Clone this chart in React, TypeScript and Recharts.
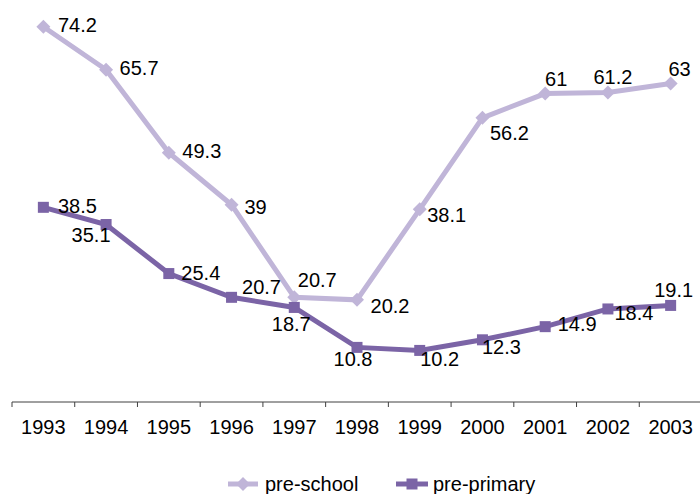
import React from "react";
import { LineChart, Line, XAxis, YAxis, Legend, LabelList } from "recharts";

const YEARS = ["1993", "1994", "1995", "1996", "1997", "1998", "1999", "2000", "2001", "2002", "2003"];
const PRE_SCHOOL = [74.2, 65.7, 49.3, 39, 20.7, 20.2, 38.1, 56.2, 61, 61.2, 63];
const PRE_PRIMARY = [38.5, 35.1, 25.4, 20.7, 18.7, 10.8, 10.2, 12.3, 14.9, 18.4, 19.1];

const data = YEARS.map((year, i) => ({
  year,
  preSchool: PRE_SCHOOL[i],
  prePrimary: PRE_PRIMARY[i],
}));

// label centre offsets from each point, px
const SCHOOL_LABEL_POS = [
  [34, -2], [33, -2], [33, -2], [24, 2], [23, -17], [33, 6],
  [27, 6], [27, 15], [11, -15], [5, -16], [9, -14],
];
const PRIMARY_LABEL_POS = [
  [34, -1], [-15, 10], [32, -1], [30, -10], [-3, 17], [-4, 12],
  [20, 9], [19, 7], [32, -3], [26, 4], [3, -15],
];

const LIGHT = "#c0b5d8";
const DARK = "#7b64a6";
const FONT = "'Liberation Sans', Arial, sans-serif";

const CHART_W = 704;
const MARGIN_L = 12;
const MARGIN_R = 2;
const BAND = (CHART_W - MARGIN_L - MARGIN_R) / YEARS.length;

function Diamond(props: any) {
  const { cx, cy, fill } = props;
  if (cx == null || cy == null) return null;
  const r = 7;
  return (
    <polygon
      points={`${cx},${cy - r} ${cx + r},${cy} ${cx},${cy + r} ${cx - r},${cy}`}
      fill={fill}
    />
  );
}

function Square(props: any) {
  const { cx, cy, fill } = props;
  if (cx == null || cy == null) return null;
  return <rect x={cx - 5.5} y={cy - 5.5} width={11} height={11} fill={fill} />;
}

// tick marks sit between categories, labels in the middle
function YearTick(props: any) {
  const { x, y, payload } = props;
  return (
    <g>
      <line x1={x - BAND / 2} y1={y} x2={x - BAND / 2} y2={y + 5} stroke="#404040" />
      <text x={x} y={y + 32} textAnchor="middle" fontSize={20} fill="#000" fontFamily={FONT}>
        {payload.value}
      </text>
    </g>
  );
}

function makeLabel(pos: number[][]) {
  return (props: any) => {
    const { x, y, value, index } = props;
    const [dx, dy] = pos[index] || [0, 0];
    return (
      <text
        x={x + dx}
        y={y + dy + 7}
        textAnchor="middle"
        fontSize={20}
        fill="#000"
        fontFamily={FONT}
      >
        {value}
      </text>
    );
  };
}

function LegendBox() {
  const cy = 12;
  return (
    <svg width={700} height={26}>
      <line x1={228} y1={cy} x2={258} y2={cy} stroke={LIGHT} strokeWidth={5} />
      <Diamond cx={243} cy={cy} fill={LIGHT} />
      <text x={265} y={cy + 7} fontSize={20} fontFamily={FONT} fill="#000">
        pre-school
      </text>
      <line x1={396} y1={cy} x2={428} y2={cy} stroke={DARK} strokeWidth={5} />
      <Square cx={412} cy={cy} fill={DARK} />
      <text x={433} y={cy + 7} fontSize={20} fontFamily={FONT} fill="#000">
        pre-primary
      </text>
    </svg>
  );
}

export default function App() {
  return (
    <div style={{ position: "absolute", left: 0, top: 0, width: 700, height: 494, overflow: "hidden", background: "#fff" }}>
      <LineChart
        width={CHART_W}
        height={494}
        data={data}
        margin={{ top: 0, right: MARGIN_R, left: MARGIN_L, bottom: 32 }}
      >
        <XAxis
          dataKey="year"
          interval={0}
          height={30}
          padding={{ left: BAND / 2, right: BAND / 2 }}
          tickLine={false}
          tickSize={0}
          tickMargin={0}
          axisLine={{ stroke: "#404040" }}
          tick={<YearTick />}
        />
        <YAxis hide domain={[0, 79.5]} />
        <Legend
          content={<LegendBox />}
          wrapperStyle={{ position: "absolute", top: 472, left: 0, bottom: "auto", width: 700 }}
        />
        <Line
          dataKey="preSchool"
          name="pre-school"
          stroke={LIGHT}
          strokeWidth={5}
          dot={<Diamond fill={LIGHT} />}
          activeDot={false}
          isAnimationActive={false}
        >
          <LabelList dataKey="preSchool" content={makeLabel(SCHOOL_LABEL_POS)} />
        </Line>
        <Line
          dataKey="prePrimary"
          name="pre-primary"
          stroke={DARK}
          strokeWidth={5}
          dot={<Square fill={DARK} />}
          activeDot={false}
          isAnimationActive={false}
        >
          <LabelList dataKey="prePrimary" content={makeLabel(PRIMARY_LABEL_POS)} />
        </Line>
      </LineChart>
    </div>
  );
}
